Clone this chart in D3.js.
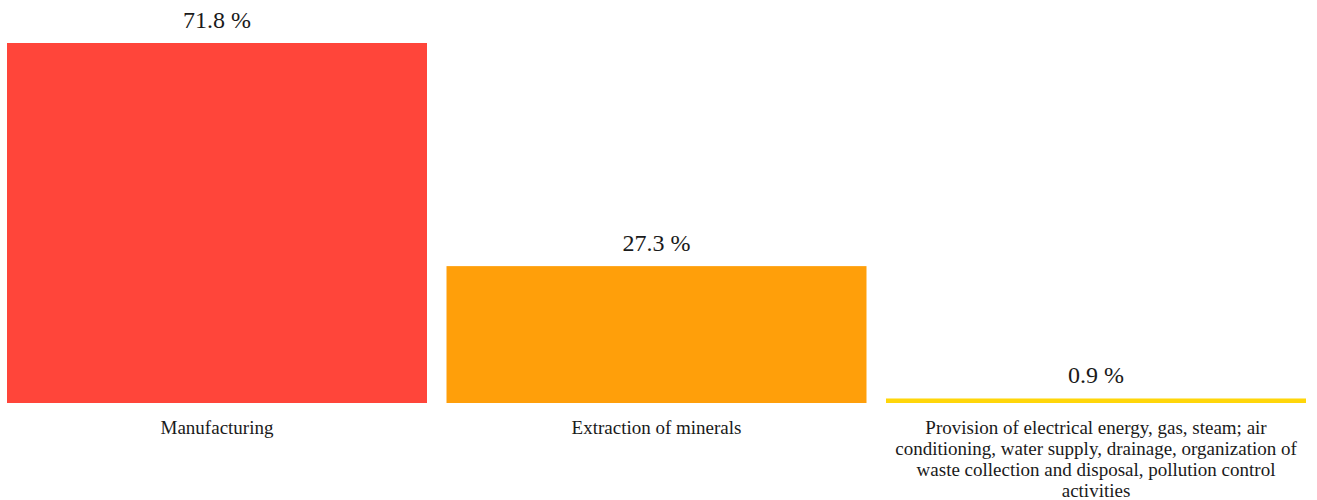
<!DOCTYPE html>
<html>
<head>
<meta charset="utf-8">
<script src="https://cdn.jsdelivr.net/npm/d3@7"></script>
<style>
  html, body { margin: 0; padding: 0; background: #fff; }
  svg { display: block; }
</style>
</head>
<body>
<svg id="chart" width="1317" height="500"></svg>
<script>
// Share of industrial output by sector, %
const categories = [
  "Manufacturing",
  "Extraction of minerals",
  "Provision of electrical energy, gas, steam; air conditioning, water supply, drainage, organization of waste collection and disposal, pollution control activities"
];
const values = [71.8, 27.3, 0.9];
const colors = ["#FF453A", "#FF9F0A", "#FFD60A"];

const FONT = '"Liberation Serif", "Times New Roman", serif';
const svg = d3.select("#chart");
const left = 7, right = 1306, baseY = 403, topY = 43;

const x = d3.scaleBand()
  .domain(categories)
  .range([left, right])
  .paddingInner(0.0444)
  .paddingOuter(0);

const y = d3.scaleLinear()
  .domain([0, d3.max(values)])
  .range([baseY, topY]);

const data = categories.map((c, i) => ({ cat: c, value: values[i], color: colors[i] }));

// bars
svg.selectAll("rect.bar")
  .data(data)
  .join("rect")
  .attr("class", "bar")
  .attr("x", d => x(d.cat))
  .attr("y", d => y(d.value))
  .attr("width", x.bandwidth())
  .attr("height", d => y(0) - y(d.value))
  .attr("fill", d => d.color);

// value labels above bars
svg.selectAll("text.value")
  .data(data)
  .join("text")
  .attr("class", "value")
  .attr("x", d => x(d.cat) + x.bandwidth() / 2)
  .attr("y", d => y(d.value) - 15)
  .attr("text-anchor", "middle")
  .attr("fill", "#1a1a1a")
  .style("font-family", FONT)
  .style("font-size", "24px")
  .text(d => `${d.value} %`);

// category axis labels, wrapped to the band width
const axis = d3.axisBottom(x).tickSize(0).tickPadding(0);
const axisG = svg.append("g")
  .attr("transform", `translate(0,${baseY})`)
  .call(axis);
axisG.select(".domain").remove();
axisG.selectAll(".tick text")
  .attr("y", 31)
  .attr("dy", 0)
  .style("font-size", "19px")
  .style("font-family", FONT)
  .attr("fill", "#1a1a1a")
  .call(wrap, x.bandwidth());

function wrap(sel, width) {
  sel.each(function () {
    const t = d3.select(this);
    const words = t.text().split(/\s+/);
    const yPos = +t.attr("y");
    t.text(null);
    let line = [];
    let lineNo = 0;
    let tspan = t.append("tspan").attr("x", 0).attr("y", yPos);
    for (const w of words) {
      line.push(w);
      tspan.text(line.join(" "));
      if (tspan.node().getComputedTextLength() > width && line.length > 1) {
        line.pop();
        tspan.text(line.join(" "));
        line = [w];
        lineNo++;
        tspan = t.append("tspan").attr("x", 0).attr("y", yPos + lineNo * 21).text(w);
      }
    }
  });
}
</script>
</body>
</html>
